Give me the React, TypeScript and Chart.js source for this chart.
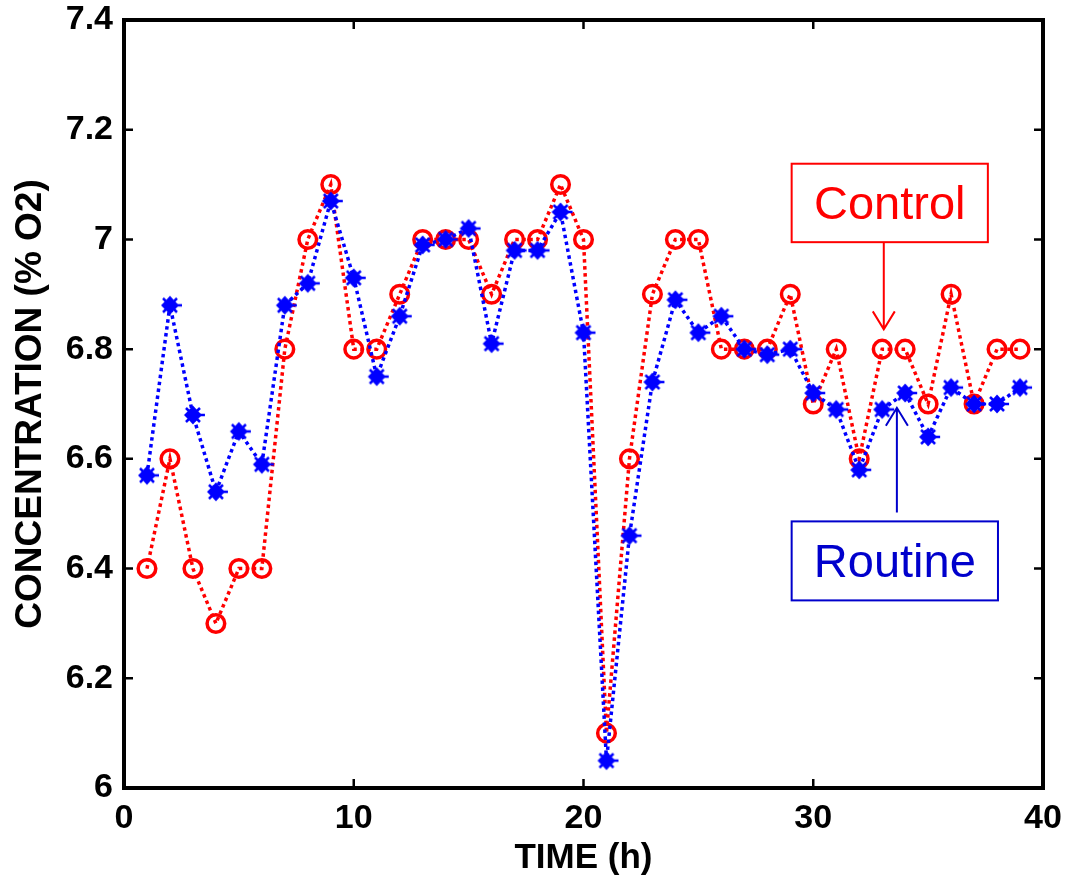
import { useEffect, useRef } from 'react';
import { Chart, registerables } from 'chart.js';

Chart.register(...registerables);

// ---- data ----
const hours = [1, 2, 3, 4, 5, 6, 7, 8, 9, 10, 11, 12, 13, 14, 15, 16, 17, 18, 19, 20, 21, 22, 23, 24, 25, 26, 27, 28, 29, 30, 31, 32, 33, 34, 35, 36, 37, 38, 39];
const controlO2 = [6.4, 6.6, 6.4, 6.3, 6.4, 6.4, 6.8, 7.0, 7.1, 6.8, 6.8, 6.9, 7.0, 7.0, 7.0, 6.9, 7.0, 7.0, 7.1, 7.0, 6.1, 6.6, 6.9, 7.0, 7.0, 6.8, 6.8, 6.8, 6.9, 6.7, 6.8, 6.6, 6.8, 6.8, 6.7, 6.9, 6.7, 6.8, 6.8];
const routineO2 = [6.57, 6.88, 6.68, 6.54, 6.65, 6.59, 6.88, 6.92, 7.07, 6.93, 6.75, 6.86, 6.99, 7.0, 7.02, 6.81, 6.98, 6.98, 7.05, 6.83, 6.05, 6.46, 6.74, 6.89, 6.83, 6.86, 6.8, 6.79, 6.8, 6.72, 6.69, 6.58, 6.69, 6.72, 6.64, 6.73, 6.7, 6.7, 6.73];
const xTickValues = [0, 10, 20, 30, 40];
const yTickValues = [6, 6.2, 6.4, 6.6, 6.8, 7, 7.2, 7.4];
const xTitle = 'TIME (h)';
const yTitle = 'CONCENTRATION (% O2)';

// annotation callouts (data coordinates)
const calloutLabels = ['Control', 'Routine'];
const calloutColors = ['#ff0000', '#0000cc'];
const calloutBoxX = [[29.06, 37.6], [29.06, 38.04]];
const calloutBoxY = [[6.995, 7.138], [6.342, 6.486]];
const calloutArrowX = [33.07, 33.64];
const calloutArrowFromY = [6.995, 6.502];
const calloutArrowToY = [6.836, 6.693];

const FONT = '"Liberation Sans", Arial, Helvetica, sans-serif';

function makeStar(color: string) {
  const c = document.createElement('canvas');
  c.width = 28;
  c.height = 28;
  const g = c.getContext('2d')!;
  const cx = 14;
  const cy = 14;
  g.fillStyle = color;
  g.strokeStyle = color;
  g.beginPath();
  g.moveTo(cx, cy - 9.5);
  g.lineTo(cx + 4.5, cy - 4.5);
  g.lineTo(cx + 9, cy);
  g.lineTo(cx + 4.5, cy + 4.5);
  g.lineTo(cx, cy + 9.5);
  g.lineTo(cx - 4.5, cy + 4.5);
  g.lineTo(cx - 9, cy);
  g.lineTo(cx - 4.5, cy - 4.5);
  g.closePath();
  g.fill();
  g.beginPath();
  g.arc(cx, cy, 6, 0, Math.PI * 2);
  g.fill();
  g.lineWidth = 2.5;
  g.beginPath();
  g.moveTo(cx, cy);
  g.lineTo(cx + 12, cy);
  g.moveTo(cx - 7, cy - 7);
  g.lineTo(cx + 7, cy + 7);
  g.moveTo(cx + 7, cy - 7);
  g.lineTo(cx - 7, cy + 7);
  g.stroke();
  return c;
}

const framePlugin = {
  id: 'frame',
  afterDraw(chart: any) {
    const { ctx, chartArea } = chart;
    const { left, right, top, bottom } = chartArea;
    const xs = chart.scales.x;
    const ys = chart.scales.y;
    ctx.save();
    ctx.strokeStyle = '#000';
    ctx.lineWidth = 2.5;
    const tl = 9;
    ctx.beginPath();
    xTickValues.forEach((v) => {
      const px = xs.getPixelForValue(v);
      ctx.moveTo(px, bottom);
      ctx.lineTo(px, bottom - tl);
      ctx.moveTo(px, top);
      ctx.lineTo(px, top + tl);
    });
    yTickValues.forEach((v) => {
      const py = ys.getPixelForValue(v);
      ctx.moveTo(left, py);
      ctx.lineTo(left + tl, py);
      ctx.moveTo(right, py);
      ctx.lineTo(right - tl, py);
    });
    ctx.stroke();
    ctx.lineWidth = 4;
    ctx.strokeRect(left, top, right - left, bottom - top);

    // callouts
    calloutLabels.forEach((label, i) => {
      const color = calloutColors[i];
      const x0 = xs.getPixelForValue(calloutBoxX[i][0]);
      const x1 = xs.getPixelForValue(calloutBoxX[i][1]);
      const y0 = ys.getPixelForValue(calloutBoxY[i][1]);
      const y1 = ys.getPixelForValue(calloutBoxY[i][0]);
      ctx.strokeStyle = color;
      ctx.fillStyle = color;
      ctx.lineWidth = 2;
      ctx.strokeRect(x0, y0, x1 - x0, y1 - y0);
      ctx.font = `47px ${FONT}`;
      ctx.textAlign = 'center';
      ctx.textBaseline = 'alphabetic';
      ctx.fillText(label, (x0 + x1) / 2, (y0 + y1) / 2 + 16.5);
      const ax = xs.getPixelForValue(calloutArrowX[i]);
      const ay0 = ys.getPixelForValue(calloutArrowFromY[i]);
      const ay1 = ys.getPixelForValue(calloutArrowToY[i]);
      const dir = ay1 > ay0 ? 1 : -1;
      ctx.beginPath();
      ctx.moveTo(ax, ay0);
      ctx.lineTo(ax, ay1);
      ctx.moveTo(ax - 11, ay1 - dir * 18);
      ctx.lineTo(ax, ay1);
      ctx.lineTo(ax + 11, ay1 - dir * 18);
      ctx.stroke();
    });
    ctx.restore();
  },
};

export default function App() {
  const ref = useRef<HTMLCanvasElement | null>(null);
  useEffect(() => {
    if (!ref.current) return;
    const star = makeStar('#0000ff');
    const chart = new Chart(ref.current, {
      type: 'line',
      data: {
        datasets: [
          {
            label: 'Routine',
            data: hours.map((h, i) => ({ x: h, y: routineO2[i] })),
            borderColor: '#0000ff',
            borderWidth: 3.5,
            borderDash: [3.5, 3.5],
            borderCapStyle: 'butt',
            pointStyle: star as any,
            pointRadius: 9,
            tension: 0,
            fill: false,
          },
          {
            label: 'Control',
            data: hours.map((h, i) => ({ x: h, y: controlO2[i] })),
            borderColor: '#ff0000',
            borderWidth: 3.5,
            borderDash: [3.5, 3.5],
            borderCapStyle: 'butt',
            pointStyle: 'circle',
            pointRadius: 8.8,
            pointBorderWidth: 3.5,
            pointBorderColor: '#ff0000',
            pointBackgroundColor: 'rgba(0,0,0,0)',
            tension: 0,
            fill: false,
          },
        ],
      },
      options: {
        responsive: false,
        animation: false,
        devicePixelRatio: 1,
        clip: false as any,
        layout: { padding: { top: 20, right: 24, left: 0, bottom: 0 } },
        plugins: {
          legend: { display: false },
          tooltip: { enabled: false },
        },
        scales: {
          x: {
            type: 'linear',
            min: 0,
            max: 40,
            afterBuildTicks: (s: any) => {
              s.ticks = xTickValues.map((v) => ({ value: v }));
            },
            afterFit: (s: any) => {
              s.height = 91;
              s.paddingLeft = 0;
              s.paddingRight = 0;
            },
            ticks: {
              color: '#000',
              font: { family: FONT, size: 34, weight: 'bold' },
              padding: 10,
              maxRotation: 0,
              autoSkip: false,
              callback: (v: any) => String(v),
            },
            grid: { display: false, drawTicks: false },
            border: { display: false },
            title: {
              display: true,
              text: xTitle,
              color: '#000',
              font: { family: FONT, size: 35, weight: 'bold' },
              padding: { top: 0, bottom: 0 },
            },
          },
          y: {
            type: 'linear',
            min: 6,
            max: 7.4,
            afterBuildTicks: (s: any) => {
              s.ticks = yTickValues.map((v) => ({ value: v }));
            },
            afterFit: (s: any) => {
              s.width = 124;
              s.paddingTop = 0;
              s.paddingBottom = 0;
            },
            ticks: {
              color: '#000',
              font: { family: FONT, size: 34, weight: 'bold' },
              padding: 11,
              autoSkip: false,
              callback: (v: any) => String(Math.round(Number(v) * 10) / 10),
            },
            grid: { display: false, drawTicks: false },
            border: { display: false },
            title: {
              display: true,
              text: yTitle,
              color: '#000',
              font: { family: FONT, size: 37, weight: 'bold' },
              padding: { top: 9, bottom: 0 },
            },
          },
        },
      },
      plugins: [framePlugin],
    });
    return () => chart.destroy();
  }, []);
  return (
    <div style={{ position: 'absolute', left: 0, top: 0, width: 1067, height: 879, background: '#fff' }}>
      <canvas ref={ref} width={1067} height={879} style={{ display: 'block', width: 1067, height: 879 }} />
    </div>
  );
}
